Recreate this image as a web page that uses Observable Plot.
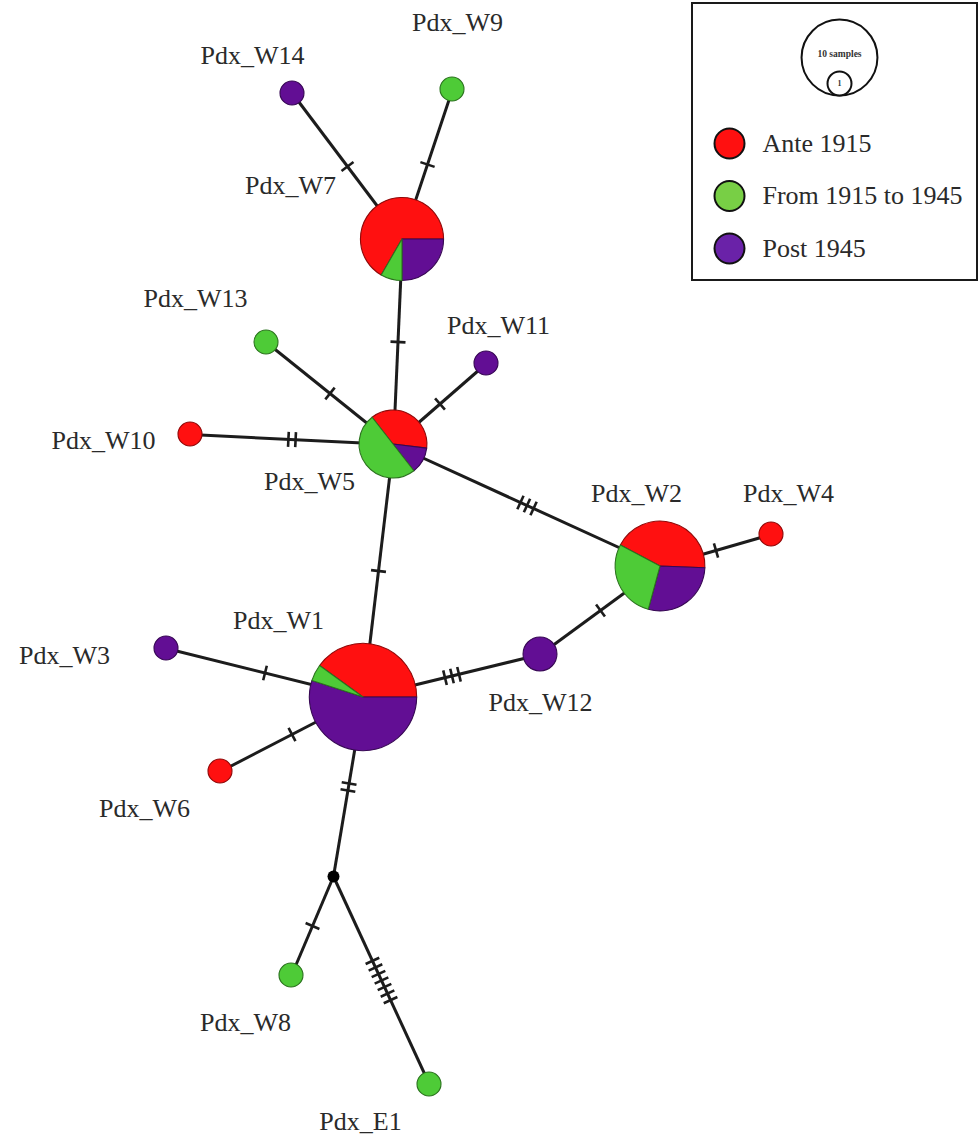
<!DOCTYPE html>
<html>
<head>
<meta charset="utf-8">
<script src="https://cdn.jsdelivr.net/npm/d3@7"></script>
<script src="https://cdn.jsdelivr.net/npm/@observablehq/plot@0.6"></script>
<style>
  html, body { margin: 0; padding: 0; background: #fff; }
  #chart svg { display: block; }
</style>
</head>
<body>
<div id="chart"></div>
<script>
// ---- Data ----
const periods = ["Ante 1915", "From 1915 to 1945", "Post 1945"];
const periodColors = ["#ff1010", "#4ecb37", "#620e94"];
const legendColors = ["#ff1010", "#78cf45", "#6a22a8"];

const haplotypes = ["Pdx_W1","Pdx_W2","Pdx_W3","Pdx_W4","Pdx_W5","Pdx_W6","Pdx_W7","Pdx_W8","Pdx_W9","Pdx_W10","Pdx_W11","Pdx_W12","Pdx_W13","Pdx_W14","Pdx_E1"];
const ante = [8, 6, 0, 1, 3, 1, 8, 0, 0, 1, 0, 0, 0, 0, 0];
const mid  = [1, 4, 0, 0, 4, 0, 1, 1, 1, 0, 0, 0, 1, 0, 1];
const post = [11, 4, 1, 0, 1, 0, 3, 0, 0, 0, 1, 2, 0, 1, 0];

// network layout (layout units)
const layoutX = [363, 660, 166, 771, 393, 220, 402, 291, 452, 190, 486, 540, 266, 292, 429];
const layoutY = [697, 566, 648, 534, 444, 771, 239, 975, 89, 434, 363, 654, 342, 93, 1084];
const pieStartDeg = [306, 298, 0, 0, 322, 0, 210, 0, 0, 0, 0, 0, 0, 0, 0];
const labelX = [278, 636, 64, 788, 309, 144, 290, 245, 457, 103, 498, 540, 195, 252, 360];
const labelY = [620, 493, 655, 493, 481, 808, 185, 1022, 22, 440, 325, 702, 298, 55, 1121];

// median vector
const medianName = "mv";
const medianX = 333, medianY = 876;

// edges with number of mutations
const edgeFrom = ["Pdx_W14","Pdx_W9","Pdx_W7","Pdx_W13","Pdx_W11","Pdx_W10","Pdx_W5","Pdx_W5","Pdx_W2","Pdx_W2","Pdx_W1","Pdx_W1","Pdx_W1","Pdx_W1","mv","mv"];
const edgeTo   = ["Pdx_W7","Pdx_W7","Pdx_W5","Pdx_W5","Pdx_W5","Pdx_W5","Pdx_W2","Pdx_W1","Pdx_W4","Pdx_W12","Pdx_W3","Pdx_W12","Pdx_W6","mv","Pdx_W8","Pdx_E1"];
const mutations = [1, 1, 1, 1, 1, 2, 3, 1, 1, 1, 1, 3, 1, 2, 1, 7];

// legend
const sizeLegendValues = [10, 1];
const sizeLegendLabels = ["10 samples", "1"];

// ---- Derived tables ----
const nodes = haplotypes.map((name, i) => ({
  name, x: layoutX[i], y: layoutY[i], lx: labelX[i], ly: labelY[i],
  counts: [ante[i], post[i], mid[i]],          // clockwise order: red, purple, green
  colors: [periodColors[0], periodColors[2], periodColors[1]],
  n: ante[i] + mid[i] + post[i], start: pieStartDeg[i]
}));
const pos = new Map(nodes.map(d => [d.name, d]));
pos.set(medianName, {name: medianName, x: medianX, y: medianY});

const edges = edgeFrom.map((f, i) => ({
  a: pos.get(f), b: pos.get(edgeTo[i]), m: mutations[i]
}));

// hatch marks: perpendicular ticks centred on each edge
const hatchSpacing = 7.2, hatchHalf = 7.5;
const hatches = [];
for (const e of edges) {
  const dx = e.b.x - e.a.x, dy = e.b.y - e.a.y, L = Math.hypot(dx, dy);
  const ux = dx / L, uy = dy / L, px = -uy, py = ux;
  const mx = e.a.x + dx / 2, my = e.a.y + dy / 2;
  for (let k = 0; k < e.m; k++) {
    const off = (k - (e.m - 1) / 2) * hatchSpacing;
    const cx = mx + ux * off, cy = my + uy * off;
    hatches.push({x1: cx - px * hatchHalf, y1: cy - py * hatchHalf, x2: cx + px * hatchHalf, y2: cy + py * hatchHalf});
  }
}

// legend layout
const legendBox = [{x1: 692, x2: 977, y1: 3, y2: 280}];
const sizeLegendCx = 839, sizeLegendBottom = 95;
const rUnit = 12; // radius of a one-sample circle
const rFor = n => rUnit * Math.sqrt(n);
const sizeLegend = sizeLegendValues.map((v, i) => ({
  n: v, label: sizeLegendLabels[i], x: sizeLegendCx, y: sizeLegendBottom - rFor(v)
}));
const colorLegend = periods.map((p, i) => ({label: p, color: legendColors[i], x: 729, tx: 762, y: 143 + i * 52.5}));

// ---- Pie render mark ----
function pies(index, scales, values, dimensions, context) {
  const X = scales.x || (v => v), Y = scales.y || (v => v), R = scales.r || rFor;
  const g = d3.create("svg:g");
  const arc = d3.arc().innerRadius(0);
  for (const d of nodes) {
    const cx = X(d.x), cy = Y(d.y), r = R(d.n);
    const gg = g.append("g").attr("transform", `translate(${cx},${cy})`);
    let a = d.start * Math.PI / 180;
    d.counts.forEach((c, j) => {
      if (!c) return;
      const a1 = a + c / d.n * 2 * Math.PI;
      gg.append("path")
        .attr("d", arc({outerRadius: r, startAngle: a, endAngle: a1}))
        .attr("fill", d.colors[j])
        .attr("stroke", d3.color(d.colors[j]).darker(1.6))
        .attr("stroke-width", 1.1)
        .attr("stroke-linejoin", "round");
      a = a1;
    });
  }
  return g.node();
}

const serif = "'Liberation Serif', 'DejaVu Serif', serif";

const chart = Plot.plot({
  width: 980,
  height: 1135,
  margin: 0,
  style: {background: "#fff"},
  x: {domain: [0, 980], range: [0, 980], axis: null},
  y: {domain: [0, 1135], range: [0, 1135], axis: null},
  r: {type: "sqrt", domain: [0, 1], range: [0, rUnit], clamp: false},
  marks: [
    Plot.link(edges, {x1: d => d.a.x, y1: d => d.a.y, x2: d => d.b.x, y2: d => d.b.y, stroke: "#1c1c1c", strokeWidth: 3}),
    Plot.link(hatches, {x1: "x1", y1: "y1", x2: "x2", y2: "y2", stroke: "#1c1c1c", strokeWidth: 2.6}),
    Plot.dot(nodes, {x: "x", y: "y", r: "n", fill: "none", stroke: "none"}),
    pies,
    Plot.dot([pos.get(medianName)], {x: "x", y: "y", r: 6, fill: "#000"}),
    Plot.text(nodes, {x: "lx", y: "ly", text: "name", fontSize: 26, fontFamily: serif, fill: "#2a2a2a"}),
    // legend
    Plot.rect(legendBox, {x1: "x1", x2: "x2", y1: "y1", y2: "y2", fill: "#fff", stroke: "#1a1a1a", strokeWidth: 2}),
    Plot.dot(sizeLegend, {x: "x", y: "y", r: "n", fill: "#fff", stroke: "#111", strokeWidth: 2}),
    Plot.text(sizeLegend.slice(0, 1), {x: "x", y: d => d.y - 4, text: "label", fontSize: 9.5, fontWeight: "bold", fontFamily: serif, fill: "#333"}),
    Plot.text(sizeLegend.slice(1), {x: "x", y: "y", text: "label", fontSize: 8, fontWeight: "bold", fontFamily: serif, fill: "#333"}),
    Plot.dot(colorLegend, {x: "x", y: "y", r: 15, fill: "color", stroke: "#111", strokeWidth: 2}),
    Plot.text(colorLegend, {x: "tx", y: "y", text: "label", textAnchor: "start", fontSize: 26, fontFamily: serif, fill: "#2a2a2a"})
  ]
});
document.getElementById("chart").appendChild(chart);
</script>
</body>
</html>
